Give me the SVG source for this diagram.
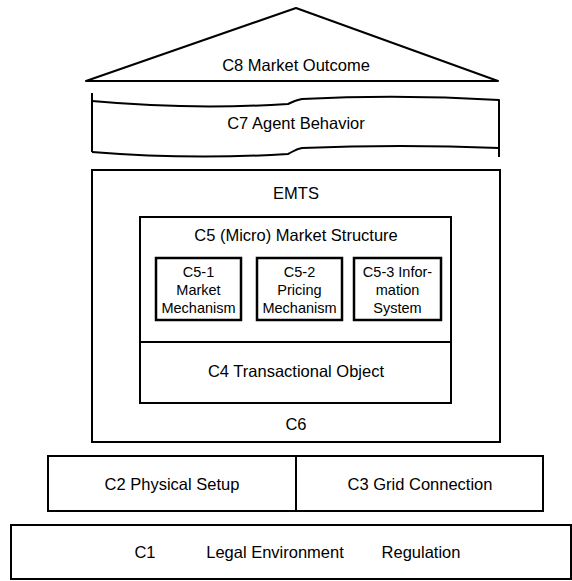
<svg xmlns="http://www.w3.org/2000/svg" width="572" height="581" viewBox="0 0 572 581">
  <style>
    .box { fill: #ffffff; stroke: #000000; stroke-width: 2; }
    .sub { fill: #ffffff; stroke: #000000; stroke-width: 2.5; }
    .line { fill: none; stroke: #000000; stroke-width: 2; stroke-linejoin: round; }
    .t { font-family: "Liberation Sans", Arial, sans-serif; font-size: 16.5px; fill: #000000; text-anchor: middle; }
    .s { font-family: "Liberation Sans", Arial, sans-serif; font-size: 14.5px; fill: #000000; text-anchor: middle; }
  </style>
  <rect width="572" height="581" fill="#ffffff"/>

  <g id="c8">
    <polygon class="line" points="86,81 296,8 498,81"/>
    <line class="line" x1="86" y1="81" x2="498" y2="81"/>
    <text class="t" x="296" y="71">C8 Market Outcome</text>
  </g>

  <g id="c7">
    <path class="line" d="M92,93 L92,152"/>
    <path class="line" d="M92,101 Q190,110 288,104 C294,101 296,100 302,99 Q400,94 499,100 L499,148"/>
    <path class="line" d="M92,152 Q190,160 288,154 C294,151 296,149 302,148 Q400,144 499,148 L499,157"/>
    <text class="t" x="296" y="129">C7 Agent Behavior</text>
  </g>

  <g id="c6">
    <rect class="box" x="92" y="170" width="408" height="272"/>
    <text class="t" x="296" y="199">EMTS</text>
    <text class="t" x="296" y="430">C6</text>
  </g>

  <g id="c5">
    <rect class="box" x="140" y="217" width="311" height="125"/>
    <text class="t" x="296" y="241">C5 (Micro) Market Structure</text>
  </g>

  <g id="c5-1">
    <rect class="sub" x="156" y="258" width="85" height="62"/>
    <text class="s" x="198.5" y="277">C5-1</text>
    <text class="s" x="198.5" y="295">Market</text>
    <text class="s" x="198.5" y="313">Mechanism</text>
  </g>

  <g id="c5-2">
    <rect class="sub" x="257" y="258" width="85" height="62"/>
    <text class="s" x="299.5" y="277">C5-2</text>
    <text class="s" x="299.5" y="295">Pricing</text>
    <text class="s" x="299.5" y="313">Mechanism</text>
  </g>

  <g id="c5-3">
    <rect class="sub" x="354" y="258" width="87" height="62"/>
    <text class="s" x="397.5" y="277">C5-3 Infor-</text>
    <text class="s" x="397.5" y="295">mation</text>
    <text class="s" x="397.5" y="313">System</text>
  </g>

  <g id="c4">
    <rect class="box" x="140" y="342" width="311" height="61"/>
    <text class="t" x="296" y="377">C4 Transactional Object</text>
  </g>

  <g id="c2">
    <rect class="box" x="48" y="456" width="248" height="55"/>
    <text class="t" x="172" y="490">C2 Physical Setup</text>
  </g>

  <g id="c3">
    <rect class="box" x="296" y="456" width="247" height="55"/>
    <text class="t" x="420" y="490">C3 Grid Connection</text>
  </g>

  <g id="c1">
    <rect class="box" x="11" y="525" width="560" height="54"/>
    <text class="t" x="145" y="558">C1</text>
    <text class="t" x="275" y="558">Legal Environment</text>
    <text class="t" x="421" y="558">Regulation</text>
  </g>

  <g id="connectors"></g>
</svg>
